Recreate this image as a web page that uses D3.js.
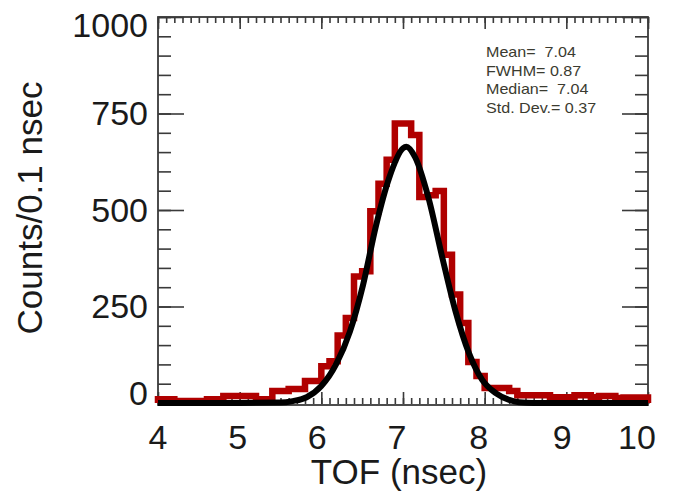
<!DOCTYPE html>
<html>
<head>
<meta charset="utf-8">
<script src="https://cdn.jsdelivr.net/npm/d3@7"></script>
<style>
  html, body { margin: 0; padding: 0; background: #fff; }
  svg { display: block; }
  text { font-family: Arial, "Liberation Sans", sans-serif; white-space: pre; }
</style>
</head>
<body>
<svg id="chart" width="674" height="496"></svg>
<script>
// ---- data ----
const binStart = 4.0;
const binWidth = 0.1;
const counts = [
  10, 10, 5, 5, 5, 5, 10, 10, 18, 18,
  18, 18, 10, 10, 31, 31, 36, 36, 57, 57,
  95, 108, 175, 220, 328, 341, 497, 568, 630, 724,
  724, 694, 534, 538, 549, 384, 281, 207, 106, 70,
  39, 39, 39, 31, 20, 20, 20, 20, 15, 15,
  15, 20, 20, 15, 18, 18, 13, 14, 14, 14
];
const fitX = [4.0, 5.0, 5.5, 5.65, 5.82, 6.0, 6.18, 6.35, 6.51, 6.67, 6.83, 7.0, 7.04, 7.15, 7.31, 7.48, 7.64, 7.81, 7.97, 8.14, 8.30, 8.42, 8.6, 9.0, 10.0];
const fitY = [0, 0, 1, 5, 15, 44, 100, 185, 305, 460, 583, 660, 664, 636, 533, 378, 240, 128, 60, 25, 8, 2, 0, 0, 0];
const xTicks = [4, 5, 6, 7, 8, 9, 10];
const yTicks = [0, 250, 500, 750, 1000];
const statLabels = ["Mean=  7.04", "FWHM= 0.87", "Median=  7.04", "Std. Dev.= 0.37"];
const xTitle = "TOF (nsec)";
const yTitle = "Counts/0.1 nsec";

// ---- layout ----
const svg = d3.select("#chart");
const x = d3.scaleLinear().domain([4, 10]).range([158, 648]);
const y = d3.scaleLinear().domain([0, 1000]).range([403, 17]);
const frameColor = "#3a3a3a";
const red = "#b00000";
const ink = "#1a1a1a";

// frame
svg.append("rect")
  .attr("x", x(4)).attr("y", y(1000))
  .attr("width", x(10) - x(4)).attr("height", y(0) - y(1000) + 2)
  .attr("fill", "none").attr("stroke", frameColor).attr("stroke-width", 1.8);

const yMinor = d3.range(0, 1001, 50);
const xMinor = d3.range(0, 61).map(i => 4 + i * 0.1);

function drawAxis(axis, cls) {
  const g = svg.append("g").attr("class", cls);
  g.call(axis);
  g.select(".domain").remove();
  g.selectAll("line").attr("stroke", frameColor).attr("stroke-width", 1.6);
  return g;
}
// y ticks (inward), left and right
drawAxis(d3.axisRight(y).tickValues(yMinor).tickSize(13).tickFormat(""), "yl-minor")
  .attr("transform", `translate(${x(4)},0)`);
drawAxis(d3.axisRight(y).tickValues(yTicks).tickSize(26).tickFormat(""), "yl-major")
  .attr("transform", `translate(${x(4)},0)`);
drawAxis(d3.axisLeft(y).tickValues(yMinor).tickSize(13).tickFormat(""), "yr-minor")
  .attr("transform", `translate(${x(10)},0)`);
drawAxis(d3.axisLeft(y).tickValues(yTicks).tickSize(26).tickFormat(""), "yr-major")
  .attr("transform", `translate(${x(10)},0)`);
// x ticks (inward), bottom and top
drawAxis(d3.axisTop(x).tickValues(xMinor).tickSize(6).tickFormat(""), "xb-minor")
  .attr("transform", `translate(0,${y(0) + 1})`);
drawAxis(d3.axisTop(x).tickValues(xTicks).tickSize(12).tickFormat(""), "xb-major")
  .attr("transform", `translate(0,${y(0) + 1})`);
drawAxis(d3.axisBottom(x).tickValues(xMinor).tickSize(6).tickFormat(""), "xt-minor")
  .attr("transform", `translate(0,${y(1000)})`);
drawAxis(d3.axisBottom(x).tickValues(xTicks).tickSize(12).tickFormat(""), "xt-major")
  .attr("transform", `translate(0,${y(1000)})`);

// tick labels
const yLab = svg.append("g").attr("font-size", 34).attr("fill", ink).attr("text-anchor", "end");
yLab.selectAll("text").data(yTicks).join("text")
  .attr("x", 148)
  .attr("y", d => y(d) + (d === 1000 ? 8 : d === 0 ? -10 : 0))
  .attr("dy", "0.35em")
  .text(d => d);
const xShift = [0, -2, -4, -6, -6, -4, -11];
const xLab = svg.append("g").attr("font-size", 34).attr("fill", ink).attr("text-anchor", "middle");
xLab.selectAll("text").data(xTicks).join("text")
  .attr("x", (d, i) => x(d) + xShift[i])
  .attr("y", 437)
  .attr("dy", "0.35em")
  .text(d => d);

// titles
svg.append("text").attr("x", 399).attr("y", 472).attr("dy", "0.35em")
  .attr("text-anchor", "middle").attr("font-size", 35).attr("fill", ink).text(xTitle);
svg.append("text").attr("transform", "translate(30,208) rotate(-90)").attr("dy", "0.35em")
  .attr("text-anchor", "middle").attr("font-size", 35).attr("fill", ink).text(yTitle);

// histogram as step outline
const histPts = [[binStart, 0]];
counts.forEach((c, i) => {
  histPts.push([binStart + i * binWidth, c]);
  histPts.push([binStart + (i + 1) * binWidth, c]);
});
histPts.push([binStart + counts.length * binWidth, 0]);
svg.append("path")
  .datum(histPts)
  .attr("fill", "none").attr("stroke", red).attr("stroke-width", 6.5)
  .attr("stroke-linejoin", "miter")
  .attr("d", d3.line().x(d => x(d[0])).y(d => y(d[1])));

// fit curve
svg.append("path")
  .datum(fitX.map((v, i) => [v, fitY[i]]))
  .attr("fill", "none").attr("stroke", "#000").attr("stroke-width", 6)
  .attr("d", d3.line().x(d => x(d[0])).y(d => y(d[1])).curve(d3.curveMonotoneX));

// stats text (slightly widened glyphs like the original raster)
svg.append("g").attr("font-size", 14).attr("fill", "#3b3b30")
  .attr("transform", "translate(486,0) scale(1.15,1)")
  .selectAll("text").data(statLabels).join("text")
  .attr("x", 0)
  .attr("y", (d, i) => 57 + i * 18.7)
  .text(d => d);
</script>
</body>
</html>
